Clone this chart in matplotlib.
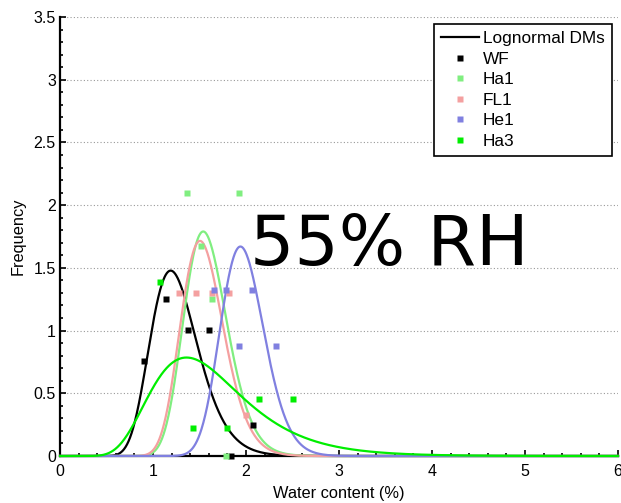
import numpy as np
import matplotlib
matplotlib.use("Agg")
import matplotlib.pyplot as plt
from matplotlib.lines import Line2D
from matplotlib.ticker import MultipleLocator

# ---- data ----
series_names = ["WF", "Ha1", "FL1", "He1", "Ha3"]
series_colors = ["#000000", "#80ee80", "#f4a0a0", "#8080e0", "#00ee00"]

wf_x = [0.905, 1.14, 1.38, 1.606, 1.839, 2.08]
wf_y = [0.755, 1.255, 1.005, 1.005, 0.0, 0.247]
ha1_x = [1.362, 1.513, 1.638, 1.785, 1.92]
ha1_y = [2.095, 1.672, 1.255, 0.0, 2.095]
fl1_x = [1.28, 1.46, 1.638, 1.817, 2.0]
fl1_y = [1.302, 1.302, 1.302, 1.302, 0.327]
he1_x = [1.658, 1.79, 2.06, 1.925, 2.32]
he1_y = [1.324, 1.324, 1.324, 0.877, 0.877]
ha3_x = [1.073, 1.434, 1.792, 2.145, 2.51]
ha3_y = [1.385, 0.226, 0.226, 0.455, 0.455]

points_x = [wf_x, ha1_x, fl1_x, he1_x, ha3_x]
points_y = [wf_y, ha1_y, fl1_y, he1_y, ha3_y]

# lognormal fitted curves: peak height, mode, log-sigma
curve_height = [1.478, 1.79, 1.715, 1.67, 0.785]
curve_mode = [1.19, 1.54, 1.505, 1.94, 1.36]
curve_sigma = [0.213, 0.15, 0.152, 0.12, 0.36]

x_ticks = [0, 1, 2, 3, 4, 5, 6]
y_ticks = [0, 0.5, 1, 1.5, 2, 2.5, 3, 3.5]

# ---- figure ----
fig = plt.figure(figsize=(6.21, 5.03), dpi=100)
ax = fig.add_axes([60 / 621, 47 / 503, 558 / 621, 439 / 503])

xs = np.linspace(0.001, 6, 1500)
for h, m, s, c in zip(curve_height, curve_mode, curve_sigma, series_colors):
    ys = h * np.exp(-(np.log(xs) - np.log(m)) ** 2 / (2 * s ** 2))
    ax.plot(xs, ys, color=c, lw=1.6, zorder=3, clip_on=False)

for px, py, c in zip(points_x, points_y, series_colors):
    ax.plot(px, py, linestyle="none", marker="s", ms=4.6, mfc=c, mec="none",
            color=c, zorder=4, clip_on=False)

ax.text(2.04, 1.525, "55% RH", fontsize=50.3, family="DejaVu Sans",
        ha="left", va="baseline", zorder=5)

ax.set_xlim(0, 6)
ax.set_ylim(0, 3.5)
ax.set_xticks(x_ticks)
ax.set_yticks(y_ticks)
ax.set_xticklabels([str(v) for v in x_ticks])
ax.set_yticklabels(["0", "0.5", "1", "1.5", "2", "2.5", "3", "3.5"])
ax.xaxis.set_minor_locator(MultipleLocator(0.2))
ax.yaxis.set_minor_locator(MultipleLocator(0.1))
ax.tick_params(which="major", direction="in", length=4, width=1.2,
               labelsize=11.5)
ax.tick_params(axis="x", which="major", pad=6)
ax.tick_params(axis="y", which="major", pad=3)
ax.tick_params(which="minor", direction="in", length=2.5, width=1.2)
for lab in ax.get_xticklabels() + ax.get_yticklabels():
    lab.set_family("Liberation Sans")

ax.spines["top"].set_visible(False)
ax.spines["right"].set_visible(False)
ax.spines["left"].set_linewidth(1.6)
ax.spines["bottom"].set_linewidth(1.6)
ax.yaxis.grid(True, which="major", linestyle=(0, (1, 2)), color="#999999", lw=0.8)
ax.set_axisbelow(True)

ax.set_xlabel("Water content (%)", fontsize=11.8, family="Liberation Sans", labelpad=5)
ax.set_ylabel("Frequency", fontsize=11.8, family="Liberation Sans", labelpad=6)

handles = [Line2D([], [], color="black", lw=1.6)]
for c in series_colors:
    handles.append(Line2D([], [], linestyle="none", marker="s", ms=4.4, mfc=c, mec="none"))
labels = ["Lognormal DMs"] + series_names
leg = ax.legend(handles, labels, loc="upper right",
                bbox_to_anchor=(0.9887, 0.984), borderaxespad=0,
                fancybox=False, framealpha=1, edgecolor="black",
                prop={"family": "Liberation Sans", "size": 12.4},
                handlelength=2.2, handletextpad=0.25, labelspacing=0.32,
                borderpad=0.4)
leg.get_frame().set_linewidth(1.2)
leg.set_zorder(6)

fig.savefig("out.png", dpi=100)
